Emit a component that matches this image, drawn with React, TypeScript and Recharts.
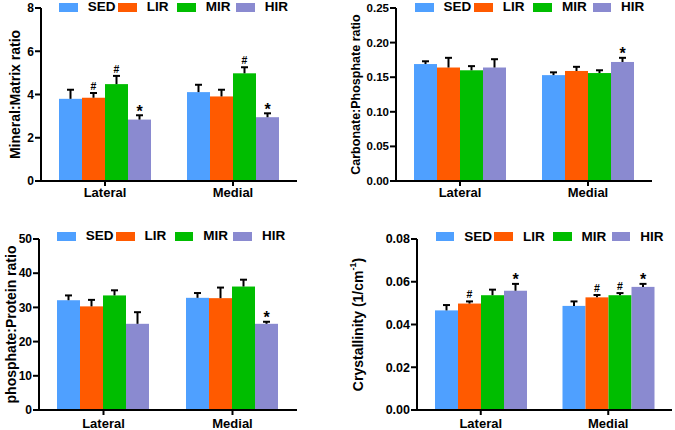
import React from 'react';
import { BarChart, Bar, XAxis, YAxis, Label } from 'recharts';

const FONT = '"Liberation Sans", Arial, sans-serif';

const categories = ['Lateral', 'Medial'];
const groups = ['SED', 'LIR', 'MIR', 'HIR'];
const colors = ['#4fa0ff', '#ff5a00', '#00bd00', '#8a8ad0'];

// Mineral:Matrix ratio
const mmSED = [3.8, 4.11];
const mmLIR = [3.85, 3.91];
const mmMIR = [4.48, 4.98];
const mmHIR = [2.84, 2.95];
const mmErr = [[0.42, 0.34], [0.22, 0.31], [0.38, 0.28], [0.2, 0.18]];
const mmMarks = [['', ''], ['#', ''], ['#', '#'], ['*', '*']];
const mmTicks = [0, 2, 4, 6, 8];

// Carbonate:Phosphate ratio
const cpSED = [0.169, 0.153];
const cpLIR = [0.164, 0.159];
const cpMIR = [0.16, 0.156];
const cpHIR = [0.164, 0.172];
const cpErr = [[0.004, 0.004], [0.014, 0.006], [0.006, 0.004], [0.012, 0.006]];
const cpMarks = [['', ''], ['', ''], ['', ''], ['', '*']];
const cpTicks = [0, 0.05, 0.1, 0.15, 0.2, 0.25];

// phosphate:Protein ratio
const ppSED = [32.1, 32.8];
const ppLIR = [30.3, 32.7];
const ppMIR = [33.5, 36.1];
const ppHIR = [25.2, 25.2];
const ppErr = [[1.4, 1.4], [1.9, 3.1], [1.5, 2.0], [3.4, 0.6]];
const ppMarks = [['', ''], ['', ''], ['', ''], ['', '*']];
const ppTicks = [0, 10, 20, 30, 40, 50];

// Crystallinity
const crSED = [0.0466, 0.0487];
const crLIR = [0.0498, 0.0527];
const crMIR = [0.0537, 0.0537];
const crHIR = [0.0558, 0.0576];
const crErr = [[0.0025, 0.0021], [0.001, 0.0011], [0.0026, 0.001], [0.0032, 0.0014]];
const crMarks = [['', ''], ['#', '#'], ['', '#'], ['*', '*']];
const crTicks = [0, 0.02, 0.04, 0.06, 0.08];

function buildRows(vals: number[][], errs: number[][], marks: string[][]) {
  return categories.map((name, i) => {
    const row: Record<string, any> = { name };
    groups.forEach((g, j) => {
      row[g] = vals[j][i];
      row[g + '_err'] = errs[j][i];
      row[g + '_mark'] = marks[j][i];
    });
    return row;
  });
}

function makeShape(color: string, key: string) {
  return (p: any) => {
    const { x, y, width, height, payload } = p;
    const v = payload[key];
    const k = v ? height / v : 0;
    const top = y - payload[key + '_err'] * k;
    const cx = x + width / 2;
    const mark = payload[key + '_mark'];
    return (
      <g>
        <rect x={x} y={y} width={width} height={height} fill={color} />
        <line x1={cx} x2={cx} y1={y} y2={top} stroke="#000" strokeWidth={2} />
        <line x1={cx - 3.5} x2={cx + 3.5} y1={top} y2={top} stroke="#000" strokeWidth={2} />
        {mark === '#' && (
          <text x={cx} y={top - 3} textAnchor="middle" fontSize={10.5} fontWeight="bold" fontFamily={FONT} fill="#000">#</text>
        )}
        {mark === '*' && (
          <text x={cx} y={top + 1.5} textAnchor="middle" fontSize={16} fontWeight="bold" fontFamily={FONT} fill="#000">*</text>
        )}
      </g>
    );
  };
}

interface PanelProps {
  left: number;
  top: number;
  width: number;
  height: number;
  margin: { top: number; right: number; bottom: number; left: number };
  yWidth: number;
  xHeight: number;
  xTickMargin: number;
  ticks: number[];
  digits: number;
  tickSize: number;
  rows: any[];
  label: React.ReactNode;
  labelX: number;
  labelSize: number;
  legendX: number;
  legendY: number;
  legendStep: number;
}

function Legend4({ x, y, step }: { x: number; y: number; step: number }) {
  return (
    <>
      {groups.map((g, i) => (
        <div key={g}>
          <div style={{ position: 'absolute', left: x + i * step, top: y, width: 18.5, height: 9, background: colors[i] }} />
          <span
            style={{
              position: 'absolute',
              left: x + i * step + 28.5,
              top: y - 2.4,
              fontSize: 13.5,
              lineHeight: '14px',
              fontWeight: 'bold',
              fontFamily: FONT,
              color: '#000',
              whiteSpace: 'nowrap',
            }}
          >
            {g}
          </span>
        </div>
      ))}
    </>
  );
}

function Panel(pr: PanelProps) {
  const plotH = pr.height - pr.margin.top - pr.margin.bottom - pr.xHeight;
  const cy = pr.margin.top + plotH / 2;
  const axisStyle = { stroke: '#000', strokeWidth: 2 };
  return (
    <>
      <div style={{ position: 'absolute', left: pr.left, top: pr.top }}>
        <BarChart
          width={pr.width}
          height={pr.height}
          data={pr.rows}
          margin={pr.margin}
          barCategoryGap={18}
          barGap={0}
          style={{ fontFamily: FONT }}
        >
          <XAxis
            dataKey="name"
            height={pr.xHeight}
            axisLine={axisStyle}
            tickLine={axisStyle}
            tickSize={5}
            tickMargin={pr.xTickMargin}
            tick={{ fill: '#000', fontSize: 13, fontWeight: 'bold', fontFamily: FONT }}
          />
          <YAxis
            width={pr.yWidth}
            domain={[pr.ticks[0], pr.ticks[pr.ticks.length - 1]]}
            ticks={pr.ticks}
            interval={0}
            tickFormatter={(v: number) => v.toFixed(pr.digits)}
            axisLine={axisStyle}
            tickLine={axisStyle}
            tickSize={6}
            tickMargin={1}
            tick={{ fill: '#000', fontSize: pr.tickSize, fontWeight: 'bold', fontFamily: FONT }}
          >
            <Label
              content={() => (
                <text
                  x={pr.labelX}
                  y={cy}
                  transform={`rotate(-90 ${pr.labelX} ${cy})`}
                  textAnchor="middle"
                  dominantBaseline="central"
                  fontSize={pr.labelSize}
                  fontWeight="bold"
                  fontFamily={FONT}
                  fill="#000"
                >
                  {pr.label}
                </text>
              )}
            />
          </YAxis>
          {groups.map((g, i) => (
            <Bar key={g} dataKey={g} fill={colors[i]} isAnimationActive={false} shape={makeShape(colors[i], g)} />
          ))}
        </BarChart>
      </div>
      <Legend4 x={pr.legendX} y={pr.legendY} step={pr.legendStep} />
    </>
  );
}

export default function App() {
  const mmRows = buildRows([mmSED, mmLIR, mmMIR, mmHIR], mmErr, mmMarks);
  const cpRows = buildRows([cpSED, cpLIR, cpMIR, cpHIR], cpErr, cpMarks);
  const ppRows = buildRows([ppSED, ppLIR, ppMIR, ppHIR], ppErr, ppMarks);
  const crRows = buildRows([crSED, crLIR, crMIR, crHIR], crErr, crMarks);
  return (
    <div style={{ position: 'absolute', left: 0, top: 0, width: 675, height: 430, background: '#fff', overflow: 'hidden' }}>
      <Panel
        left={0} top={0} width={337} height={215}
        margin={{ top: 8, right: 40, bottom: 4, left: 0 }}
        yWidth={41} xHeight={30} xTickMargin={2}
        ticks={mmTicks} digits={0} tickSize={12}
        rows={mmRows}
        label="Mineral:Matrix ratio" labelX={15} labelSize={14}
        legendX={59.3} legendY={2.7} legendStep={59}
      />
      <Panel
        left={337} top={0} width={338} height={215}
        margin={{ top: 8, right: 23, bottom: 4, left: 0 }}
        yWidth={59} xHeight={30} xTickMargin={2}
        ticks={cpTicks} digits={2} tickSize={11.5}
        rows={cpRows}
        label="Carbonate:Phosphate ratio" labelX={18.5} labelSize={12.5}
        legendX={415} legendY={2.7} legendStep={59.2}
      />
      <Panel
        left={0} top={215} width={337} height={215}
        margin={{ top: 24, right: 40, bottom: 0, left: 0 }}
        yWidth={39} xHeight={20} xTickMargin={4}
        ticks={ppTicks} digits={0} tickSize={12}
        rows={ppRows}
        label="phosphate:Protein ratio" labelX={11} labelSize={14}
        legendX={57.3} legendY={231.7} legendStep={58.7}
      />
      <Panel
        left={337} top={215} width={338} height={215}
        margin={{ top: 24, right: 3, bottom: 0, left: 0 }}
        yWidth={80} xHeight={20} xTickMargin={4}
        ticks={crTicks} digits={2} tickSize={12.5}
        rows={crRows}
        label={
          <>
            <tspan>Crystallinity (1/cm</tspan>
            <tspan dy={-5} fontSize={9}>-1</tspan>
            <tspan dy={5}>)</tspan>
          </>
        }
        labelX={21} labelSize={14}
        legendX={435.7} legendY={232.3} legendStep={58.7}
      />
    </div>
  );
}
